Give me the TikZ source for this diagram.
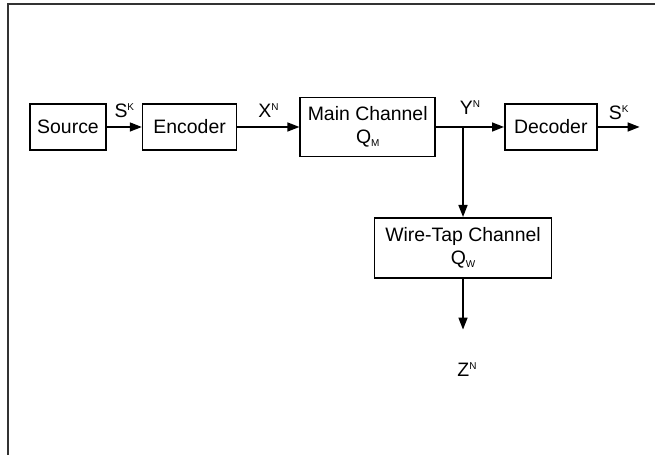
\documentclass[tikz,border=0pt]{standalone}
\usepackage{fontspec}
\setmainfont{Liberation Sans}
\usetikzlibrary{arrows.meta,positioning}
\newcommand{\upidx}[1]{\raisebox{7bp}{\fontsize{10}{10}\selectfont #1}}
\newcommand{\lowidx}[1]{\raisebox{-3bp}{\fontsize{10}{10}\selectfont #1}}

\begin{document}
\begin{tikzpicture}[x=1bp, y=1bp, font=\fontsize{19.5}{23}\selectfont, blk/.style={draw, line width=1.6bp, align=center, minimum height=46bp, inner sep=2bp}, arr/.style={line width=1.5bp, -{Triangle[length=12bp,width=9bp]}}, lbl/.style={above=5bp}]
\useasboundingbox (0,0) rectangle (655,455);
\draw[black!80, line width=2bp] (655,450.5) -- (8,450.5) -- (8,0);
\node[blk, minimum width=76bp] (src) at (68,328) {Source};
\node[blk, minimum width=94bp, right=35bp of src] (enc) {Encoder};
\node[blk, minimum width=135bp, minimum height=59bp, right=62bp of enc] (mch) {Main Channel\\Q\lowidx{M}};
\node[blk, minimum width=92bp, right=68bp of mch] (dec) {Decoder};
\coordinate[right=27bp of mch] (tap);
\coordinate[right=42bp of dec] (out);
\node[blk, minimum width=177bp, minimum height=60bp, below=90bp of tap] (wtc) {Wire-Tap Channel\\Q\lowidx{W}};
\coordinate[below=51bp of wtc] (zend);
\node[below=30bp of zend, xshift=4bp] (zn) {Z\upidx{N}};
\node[above=9bp of tap, xshift=7bp] (yn) {Y\upidx{N}};
\draw[arr] (src) -- node[lbl] {S\upidx{K}} (enc); \draw[arr] (enc) -- node[lbl] {X\upidx{N}} (mch);
\draw[arr] (mch) -- (dec); \draw[arr] (dec) -- node[above=3bp] {S\upidx{K}} (out);
\draw[arr] (tap) -- (wtc); \draw[arr] (wtc) -- (zend);
\end{tikzpicture}
\end{document}
